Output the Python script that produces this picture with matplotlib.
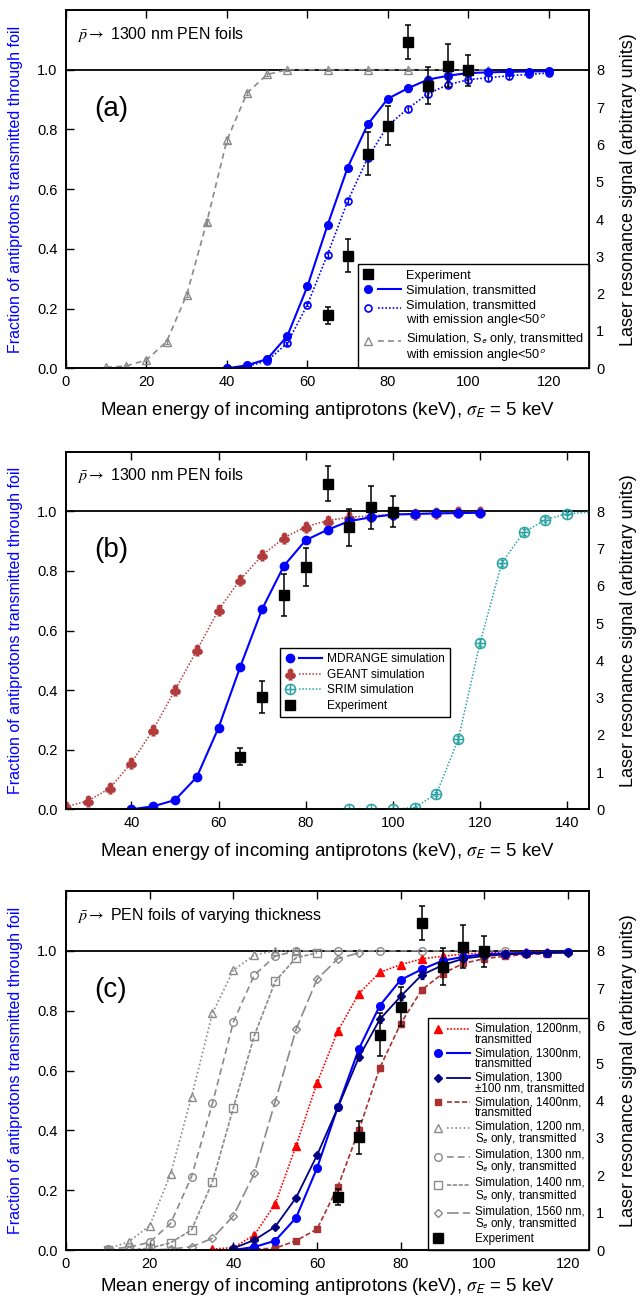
import matplotlib
matplotlib.use("Agg")
import matplotlib.pyplot as plt
from matplotlib.lines import Line2D
from matplotlib.legend_handler import HandlerBase
from matplotlib.ticker import FormatStrFormatter

plt.rcParams['font.family'] = ['Liberation Sans', 'DejaVu Sans']
plt.rcParams['mathtext.fontset'] = 'stix'

# ---------------- data ----------------
# experiment (same in all panels)
E_exp = [65, 70, 75, 80, 85, 90, 95, 100]
exp_frac = [0.177, 0.377, 0.719, 0.813, 1.093, 0.947, 1.014, 0.998]
exp_err = [0.028, 0.055, 0.072, 0.065, 0.058, 0.062, 0.072, 0.052]

# panel (a)
E_sim = [40, 45, 50, 55, 60, 65, 70, 75, 80, 85, 90, 95, 100, 105, 110, 115, 120]
sim1300 = [0.000, 0.010, 0.031, 0.108, 0.274, 0.479, 0.672, 0.817, 0.903, 0.938,
           0.967, 0.980, 0.989, 0.991, 0.993, 0.994, 0.995]
sim1300_err = [0.002, 0.003, 0.004, 0.005, 0.006, 0.007, 0.007, 0.008, 0.009, 0.012,
               0.012, 0.012, 0.010, 0.010, 0.010, 0.008, 0.006]
sim1300_ang = [0.000, 0.006, 0.025, 0.084, 0.213, 0.381, 0.559, 0.705, 0.813, 0.870,
               0.920, 0.950, 0.967, 0.973, 0.980, 0.984, 0.989]
sim1300_ang_err = [0.002, 0.003, 0.004, 0.005, 0.006, 0.007, 0.008, 0.008, 0.009, 0.010,
                   0.012, 0.012, 0.012, 0.010, 0.010, 0.008, 0.006]
E_se_a = [10, 15, 20, 25, 30, 35, 40, 45, 50, 55, 65, 75, 85, 95, 105]
se_a = [0.003, 0.008, 0.028, 0.089, 0.246, 0.490, 0.764, 0.922, 0.984, 1.000,
        1.000, 1.000, 1.000, 1.000, 1.000]
se_a_err = [0.003, 0.004, 0.005, 0.006, 0.008, 0.010, 0.010, 0.008, 0.006, 0.004,
            0.003, 0.003, 0.003, 0.003, 0.003]

# panel (b)
E_geant = [25, 30, 35, 40, 45, 50, 55, 60, 65, 70, 75, 80, 85, 90, 95, 100, 105, 110, 115, 120]
geant = [0.009, 0.028, 0.070, 0.156, 0.267, 0.400, 0.533, 0.669, 0.771, 0.852,
         0.911, 0.948, 0.969, 0.980, 0.985, 0.990, 0.992, 0.994, 0.996, 0.997]
geant_err = [0.004, 0.005, 0.006, 0.007, 0.008, 0.008, 0.008, 0.008, 0.008, 0.007,
             0.007, 0.006, 0.006, 0.005, 0.005, 0.004, 0.004, 0.004, 0.003, 0.003]
E_srim = [90, 95, 100, 105, 110, 115, 120, 125, 130, 135, 140, 145]
srim = [0.000, 0.000, 0.000, 0.006, 0.052, 0.235, 0.559, 0.827, 0.929, 0.972, 0.992, 0.997]
srim_err = [0.002, 0.002, 0.002, 0.003, 0.006, 0.010, 0.012, 0.010, 0.010, 0.008, 0.006, 0.004]

# panel (c)
E_1200 = [35, 40, 45, 50, 55, 60, 65, 70, 75, 80, 85, 90, 95, 100, 105, 110, 115]
sim1200 = [0.003, 0.008, 0.050, 0.154, 0.349, 0.559, 0.733, 0.857, 0.928, 0.954,
           0.973, 0.982, 0.989, 0.993, 0.994, 0.995, 0.996]
sim1200_err = [0.003, 0.004, 0.006, 0.008, 0.009, 0.010, 0.010, 0.009, 0.009, 0.008,
               0.007, 0.006, 0.005, 0.005, 0.004, 0.004, 0.003]
E_pm = [40, 45, 50, 55, 60, 65, 70, 75, 80, 85, 90, 95, 100, 105, 110, 115, 120]
sim1300pm = [0.006, 0.033, 0.078, 0.175, 0.317, 0.477, 0.644, 0.771, 0.848, 0.919,
             0.952, 0.974, 0.983, 0.988, 0.991, 0.993, 0.994]
sim1300pm_err = [0.003, 0.004, 0.005, 0.006, 0.008, 0.009, 0.010, 0.012, 0.012, 0.012,
                 0.010, 0.009, 0.008, 0.007, 0.006, 0.005, 0.004]
E_1400 = [40, 45, 50, 55, 60, 65, 70, 75, 80, 85, 90, 95, 100, 105, 110, 115]
sim1400 = [0.003, 0.003, 0.006, 0.031, 0.070, 0.212, 0.401, 0.609, 0.757, 0.869,
           0.924, 0.958, 0.974, 0.982, 0.988, 0.990]
sim1400_err = [0.003, 0.003, 0.004, 0.005, 0.006, 0.008, 0.010, 0.010, 0.010, 0.009,
               0.008, 0.007, 0.006, 0.005, 0.004, 0.004]
E_se1200 = [10, 15, 20, 25, 30, 35, 40, 45, 50, 55]
se1200 = [0.003, 0.028, 0.081, 0.254, 0.512, 0.791, 0.935, 0.986, 1.000, 1.000]
E_se1300 = [10, 15, 20, 25, 30, 35, 40, 45, 50, 55, 65, 75, 85, 95, 105]
se1300 = [0.003, 0.009, 0.026, 0.089, 0.245, 0.490, 0.762, 0.919, 0.982, 1.000,
          1.000, 1.000, 1.000, 1.000, 1.000]
E_se1400 = [10, 15, 20, 25, 30, 35, 40, 45, 50, 55, 60]
se1400 = [0.000, 0.000, 0.006, 0.024, 0.067, 0.228, 0.475, 0.716, 0.898, 0.977, 0.993]
E_se1560 = [10, 15, 20, 25, 30, 35, 40, 45, 50, 55, 60, 65, 70]
se1560 = [0.000, 0.000, 0.000, 0.003, 0.011, 0.039, 0.114, 0.256, 0.496, 0.738,
          0.905, 0.974, 0.993]

XLABEL = r'Mean energy of incoming antiprotons (keV), $\sigma_{\mathsf{E}}$ = 5 keV'
YLABEL_L = 'Fraction of antiprotons transmitted through foil'
YLABEL_R = 'Laser resonance signal (arbitrary units)'
SE = 'S$_{\\mathsf{e}}$'
DEG = '50$^{\\mathsf{o}}$'

BLUE = '#0000ff'
GREY = '#8a8a8a'
NAVY = '#000080'
RED = '#ff0000'
BROWN = '#a83232'
GEANTC = '#b23a3a'
TEAL = '#2aa3a3'


class MarkerLineHandler(HandlerBase):
    """marker on the left, line segment to the right (gnuplot style)."""
    def create_artists(self, legend, orig_handle, xdescent, ydescent,
                       width, height, fontsize, trans):
        nl = getattr(orig_handle, '_nlines', 1)
        y = height / 2.0 - ydescent + (nl - 1) * 0.5 * fontsize * 1.0
        x0 = -xdescent
        arts = []
        ls = orig_handle.get_linestyle()
        if ls not in ('None', 'none', '', ' '):
            ln = Line2D([x0 + width * 0.38, x0 + width], [y, y])
            ln.update_from(orig_handle)
            ln.set_marker('None')
            ln.set_transform(trans)
            arts.append(ln)
        mk = Line2D([x0 + width * 0.13], [y])
        mk.update_from(orig_handle)
        mk.set_linestyle('None')
        mk.set_transform(trans)
        arts.append(mk)
        return arts


fig = plt.figure(figsize=(6.41, 12.98), dpi=100)
LEFT, WIDTH = 66 / 641, 523 / 641


def make_axes(top_px, bot_px):
    return fig.add_axes([LEFT, 1 - bot_px / 1298, WIDTH, (bot_px - top_px) / 1298])


def style(ax, xlim, xticks, panel, note, xlab_y=-0.089):
    ax.set_xlim(*xlim)
    ax.set_ylim(0, 1.2)
    ax.set_xticks(xticks)
    ax.set_yticks([0, 0.2, 0.4, 0.6, 0.8, 1.0])
    ax.yaxis.set_major_formatter(FormatStrFormatter('%.1f'))
    ax.tick_params(direction='in', length=6, width=1, top=True, labelsize=10.5)
    ax.tick_params(axis='x', pad=5)
    ax.tick_params(axis='y', pad=6)
    ax.axhline(1.0, color='k', lw=1.3, zorder=1)
    for s in ax.spines.values():
        s.set_linewidth(1.2)
    ax.set_xlabel(XLABEL, fontsize=13.4)
    ax.xaxis.set_label_coords(0.5, xlab_y)
    ax.set_ylabel(YLABEL_L, color=BLUE, fontsize=11.5)
    ax.yaxis.set_label_coords(-0.082, 0.5)
    ax2 = ax.twinx()
    ax2.set_ylim(0, 9.6)
    ax2.set_yticks(range(9))
    ax2.tick_params(length=0, labelsize=10.5, pad=5)
    ax2.set_ylabel(YLABEL_R, fontsize=13)
    ax2.yaxis.set_label_coords(1.059, 0.5)
    for s in ax2.spines.values():
        s.set_linewidth(1.2)
    ax.text(0.054, 0.725, panel, transform=ax.transAxes, fontsize=20, va='center')
    ax.text(0.021, 0.933, note, transform=ax.transAxes, fontsize=11.5, va='center')
    return ax2


def series(ax, x, y, err, color, ls, marker, ms, mfc, lw=1.2, label='', mew=1.0, z=3, markevery=None):
    if err is not None:
        ax.errorbar(x, y, yerr=err, fmt='none', ecolor=color, elinewidth=0.9,
                    capsize=1.6, capthick=0.9, zorder=z)
    ln, = ax.plot(x, y, color=color, linestyle=ls, marker=marker, ms=ms, mfc=mfc,
                  mec=color, mew=mew, lw=lw, label=label, zorder=z, markevery=markevery)
    ln._nlines = label.count('\n') + 1
    return ln


def experiment(ax, ms):
    ax.errorbar(E_exp, exp_frac, yerr=exp_err, fmt='none', ecolor='k', elinewidth=1.1,
                capsize=2.5, capthick=1.1, zorder=6)
    ln, = ax.plot(E_exp, exp_frac, linestyle='None', marker='s', ms=ms, color='k',
                  mfc='k', mec='k', label='Experiment', zorder=7)
    ln._nlines = 1
    return ln


def legend(ax, handles, loc, anchor, fs, hl, ls_sp, lab_sp):
    leg = ax.legend(handles=handles, loc=loc, bbox_to_anchor=anchor, borderaxespad=0,
                    fontsize=fs, handlelength=hl, handletextpad=0.4, labelspacing=lab_sp,
                    borderpad=0.4, fancybox=False, framealpha=1, edgecolor='k',
                    handler_map={Line2D: MarkerLineHandler()})
    leg.get_frame().set_linewidth(1.0)
    leg.set_zorder(10)
    for t in leg.get_texts():
        t.set_linespacing(ls_sp)
    return leg


# ---------------- panel (a) ----------------
axa = make_axes(10, 368.3)
h_se = series(axa, E_se_a, se_a, se_a_err, GREY, (0, (3.5, 2.5)), '^', 5.5, 'none',
              label='Simulation, ' + SE + ' only, transmitted\nwith emission angle<' + DEG)
h_ang = series(axa, E_sim, sim1300_ang, sim1300_ang_err, BLUE, (0, (1, 1.2)), 'o', 5, 'none',
               label='Simulation, transmitted\nwith emission angle<' + DEG, mew=1.2)
h_tr = series(axa, E_sim, sim1300, sim1300_err, BLUE, '-', 'o', 5.5, BLUE, lw=1.5,
              label='Simulation, transmitted')
h_ex = experiment(axa, 6.5)
style(axa, (0, 130), [0, 20, 40, 60, 80, 100, 120], '(a)',
      r'$\bar{p} \rightarrow$ 1300 nm PEN foils')
legend(axa, [h_ex, h_tr, h_ang, h_se], 'lower right', (1, 0), 9.2, 2.9, 1.0, 0.25)

# ---------------- panel (b) ----------------
axb = make_axes(451.7, 809.3)
h_g = series(axb, E_geant, geant, geant_err, GEANTC, (0, (1, 1.2)), r'$\clubsuit$', 8, GEANTC,
             lw=1.1, label='GEANT simulation', mew=0.6)
h_s = series(axb, E_srim, srim, srim_err, TEAL, (0, (1, 1.2)), r'$\oplus$', 8, TEAL,
             lw=1.1, label='SRIM simulation', mew=0.4, markevery=slice(0, 11))
h_m = series(axb, E_sim, sim1300, sim1300_err, BLUE, '-', 'o', 6, BLUE, lw=1.5,
             label='MDRANGE simulation')
h_ex_b = experiment(axb, 7.5)
style(axb, (25, 145), [40, 60, 80, 100, 120, 140], '(b)',
      r'$\bar{p} \rightarrow$ 1300 nm PEN foils')
legend(axb, [h_m, h_g, h_s, h_ex_b], 'upper left', (0.41, 0.450), 8.6, 3.1, 1.0, 0.3)

# ---------------- panel (c) ----------------
axc = make_axes(891, 1250)
h_s12 = series(axc, E_se1200, se1200, None, GREY, (0, (1, 1.5)), '^', 5.5, 'none',
               label='Simulation, 1200 nm,\n' + SE + ' only, transmitted')
h_s13 = series(axc, E_se1300, se1300, None, GREY, (0, (4, 2.5)), 'o', 5.5, 'none',
               label='Simulation, 1300 nm,\n' + SE + ' only, transmitted')
h_s14 = series(axc, E_se1400, se1400, None, GREY, (0, (2.5, 1)), 's', 5.5, 'none',
               label='Simulation, 1400 nm,\n' + SE + ' only, transmitted')
h_s156 = series(axc, E_se1560, se1560, None, GREY, (0, (7, 2.5)), 'D', 4.5, 'none',
                label='Simulation, 1560 nm,\n' + SE + ' only, transmitted')
h_12 = series(axc, E_1200, sim1200, sim1200_err, RED, (0, (1, 1)), '^', 5.5, RED,
              label='Simulation, 1200nm,\ntransmitted')
h_14 = series(axc, E_1400, sim1400, sim1400_err, BROWN, (0, (3, 1.5)), 's', 5, BROWN,
              label='Simulation, 1400nm,\ntransmitted')
h_13 = series(axc, E_sim, sim1300, sim1300_err, BLUE, '-', 'o', 5.5, BLUE, lw=1.5,
              label='Simulation, 1300nm,\ntransmitted')
h_pm = series(axc, E_pm, sim1300pm, sim1300pm_err, NAVY, '-', 'D', 4.2, NAVY, lw=1.3,
              label='Simulation, 1300\n\u00b1100 nm, transmitted')
h_ex_c = experiment(axc, 7)
style(axc, (0, 125), [0, 20, 40, 60, 80, 100, 120], '(c)',
      r'$\bar{p} \rightarrow$ PEN foils of varying thickness', xlab_y=-0.072)
legend(axc, [h_12, h_13, h_pm, h_14, h_s12, h_s13, h_s14, h_s156, h_ex_c],
       'lower right', (1, 0), 8.4, 3.2, 0.88, 0.13)

fig.savefig('out.png', dpi=100)
